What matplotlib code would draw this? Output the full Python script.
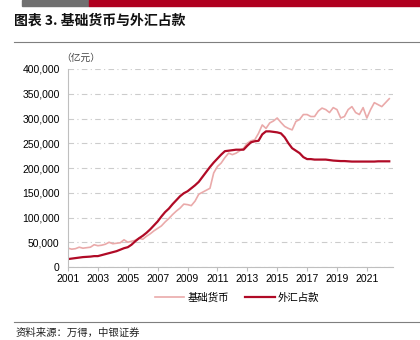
import numpy as np
import matplotlib
matplotlib.use("Agg")
import matplotlib.pyplot as plt
from matplotlib.lines import Line2D
from matplotlib.patches import Rectangle

plt.rcParams['font.family'] = ['Liberation Sans', 'Noto Sans CJK SC', 'DejaVu Sans']

# 季度数据（亿元），2001Q1 - 2022Q3
base_money = [
    38000, 36000, 37000, 40000,
    38000, 39000, 40000, 45000,
    43000, 44000, 46000, 50000,
    47000, 48000, 49000, 55000,
    50000, 52000, 54000, 58000,
    56000, 62000, 67000, 73000,
    78000, 83000, 91000, 98000,
    106000, 113000, 119000, 127000,
    126000, 124000, 133000, 147000,
    151000, 155000, 159000, 190000,
    203000, 210000, 221000, 230000,
    227000, 230000, 235000, 240000,
    250000, 255000, 257000, 270000,
    287000, 280000, 291000, 295000,
    301000, 292000, 284000, 280000,
    277000, 294000, 298000, 308000,
    308000, 304000, 304000, 315000,
    321000, 318000, 312000, 322000,
    318000, 301000, 304000, 318000,
    324000, 312000, 308000, 322000,
    301000, 318000, 332000, 328000,
    324000, 332000, 340000,
]
fx_funds = [
    16000, 17000, 18000, 19000,
    20000, 20500, 21000, 22000,
    22000, 24000, 26000, 28000,
    30000, 32000, 35000, 38000,
    40000, 45000, 52000, 58000,
    63000, 69000, 76000, 84000,
    92000, 102000, 111000, 118000,
    127000, 135000, 143000, 149000,
    153000, 159000, 165000, 172000,
    182000, 192000, 202000, 211000,
    219000, 227000, 234000, 235000,
    236000, 237000, 237000, 237000,
    245000, 252000, 254000, 255000,
    268000, 274000, 274000, 273000,
    272000, 270000, 262000, 250000,
    240000, 235000, 230000, 222000,
    218000, 218000, 217000, 217000,
    217000, 217000, 216000, 215000,
    214500, 214000, 214000, 213500,
    213000, 213000, 213000, 213000,
    213000, 213000, 213000, 213500,
    213500, 213500, 213500,
]
years = 2001 + np.arange(len(base_money)) / 4.0
year_ticks = list(range(2001, 2022, 2))
y_ticks = list(range(0, 400001, 50000))

pink = '#eaaaaa'
red = '#b00a26'
cjk = ['Noto Sans CJK SC', 'DejaVu Sans']

fig = plt.figure(figsize=(4.2, 3.4), dpi=100)

# 顶部色条
fig.patches.append(Rectangle((22 / 420, 1 - 6 / 340), 67 / 420, 6 / 340,
                             transform=fig.transFigure, color='#707070', zorder=0))
fig.patches.append(Rectangle((89 / 420, 1 - 6 / 340), 331 / 420, 6 / 340,
                             transform=fig.transFigure, color='#b0001f', zorder=0))
fig.text(14 / 420, 1 - 21 / 340, '图表 3. 基础货币与外汇占款', family=cjk,
         fontsize=10, fontweight='bold', va='center', ha='left', color='#111111')
fig.add_artist(Line2D([14 / 420, 1], [1 - 42 / 340] * 2, color='#7f7f7f', lw=0.8))
fig.add_artist(Line2D([14 / 420, 1], [1 - 322 / 340] * 2, color='#7f7f7f', lw=0.8))
fig.text(16 / 420, 1 - 333 / 340, '资料来源：万得，中银证券', family=cjk,
         fontsize=7.5, style='italic', va='center', ha='left', color='#222222')

ax = fig.add_axes([68 / 420, 73 / 340, 325 / 420, 198 / 340])
ax.plot(years, base_money, color=pink, lw=1.2, label='基础货币')
ax.plot(years, fx_funds, color=red, lw=1.6, label='外汇占款')

ax.set_xlim(2001, 2022.75)
ax.set_ylim(0, 400000)
ax.set_xticks(year_ticks)
ax.set_xticklabels([str(y) for y in year_ticks])
ax.set_yticks(y_ticks)
ax.set_yticklabels([f'{v:,}' for v in y_ticks])
ax.tick_params(axis='x', length=3, color='#bfbfbf', labelsize=7.5, pad=2)
ax.tick_params(axis='y', length=0, labelsize=7.5, pad=6)
for side in ['top', 'right']:
    ax.spines[side].set_visible(False)
for side in ['left', 'bottom']:
    ax.spines[side].set_color('#bfbfbf')
    ax.spines[side].set_linewidth(0.8)
ax.yaxis.grid(True, color='#cccccc', lw=0.8, linestyle=(0, (5, 3, 1, 3)))
ax.set_axisbelow(True)

ax.text(-0.02, 1.03, '（亿元）', transform=ax.transAxes, family=cjk,
        fontsize=7, color='#444444', ha='left', va='bottom')

ax.legend(loc='upper center', bbox_to_anchor=(0.52, -0.08), ncol=2, frameon=False,
          prop={'family': cjk, 'size': 7.5}, handlelength=2.8, columnspacing=1.6,
          handletextpad=0.3)

fig.savefig('out.png', dpi=100)
